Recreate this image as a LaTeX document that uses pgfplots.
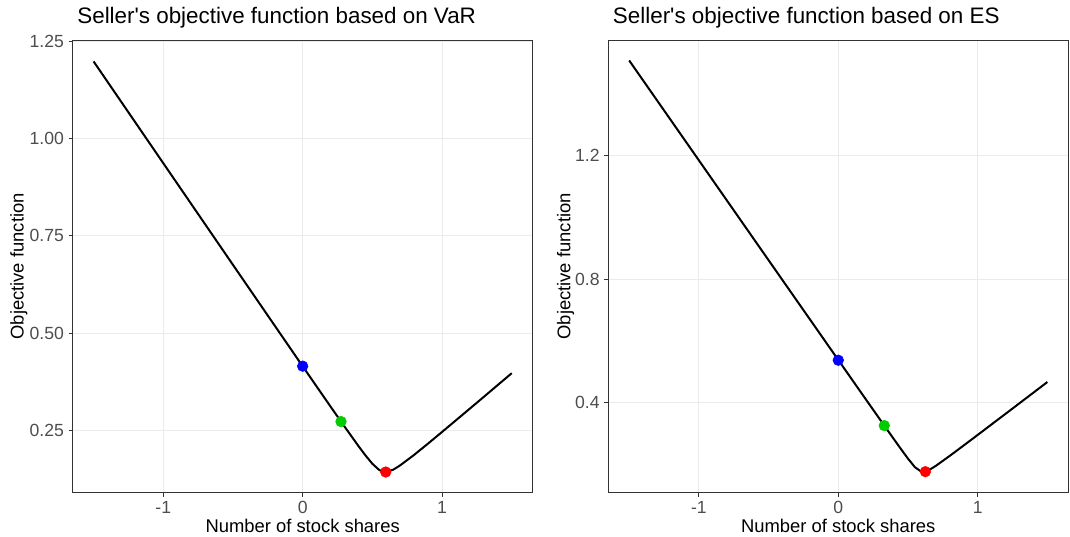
\documentclass[border=0pt]{standalone}
\usepackage{fontspec}
\setmainfont{Liberation Sans}
\usepackage{pgfplots}
\pgfplotsset{compat=1.18}

\definecolor{frame}{HTML}{333333}
\definecolor{ticktxt}{HTML}{4D4D4D}
\definecolor{gridc}{HTML}{EBEBEB}
\definecolor{ptgreen}{HTML}{00CD00}

\pgfplotsset{
  panel/.style={
    anchor=south west,
    scale only axis,
    width=345pt, height=339.5pt,
    xmin=-1.65, xmax=1.65,
    xtick={-1,0,1},
    tick pos=left,
    tick align=outside,
    major tick length=3pt,
    every tick/.style={frame, line width=0.6pt},
    axis line style={frame, line width=0.7pt},
    grid=major,
    major grid style={gridc, line width=0.7pt},
    ticklabel style={font=\fontsize{13.2}{15}\selectfont, text=ticktxt},
    /pgf/number format/assume math mode=true,
    label style={font=\fontsize{13.8}{16}\selectfont},
    xlabel style={at={(axis description cs:0.5,0)}, anchor=base, yshift=-29.5pt},
    title style={at={(axis description cs:0,1)}, anchor=base west, yshift=6pt, font=\fontsize{16.8}{20}\selectfont},
    xlabel={Number of stock shares},
    ylabel={Objective function},
  },
  curve/.style={black, line width=1.5pt, no marks},
  dot/.style={only marks, mark=*, mark size=4pt},
}

\begin{document}
\begin{tikzpicture}
\useasboundingbox (0,0) rectangle (802.5pt,402pt);

% VaR panel
\begin{axis}[panel,
    at={(54.5pt,32.5pt)},
    ymin=0.090, ymax=1.253,
    ytick={0.25,0.5,0.75,1,1.25},
    yticklabel style={/pgf/number format/.cd, fixed, fixed zerofill, precision=2},
    ylabel style={at={(axis description cs:-0.117,0.5)}, anchor=center},
    title={Seller\textquotesingle s objective function based on VaR}]
  \addplot[curve] coordinates {
    (-1.5,1.198) (-1.0,0.9365) (-0.5,0.6753) (0,0.4147) (0.2,0.3112)
    (0.3,0.2600) (0.4,0.2099) (0.45,0.186) (0.5,0.1643) (0.55,0.1480)
    (0.594,0.1429) (0.65,0.1491) (0.7,0.1603) (0.8,0.1872) (0.9,0.2163)
    (1.0,0.2460) (1.25,0.3212) (1.5,0.397)};
  \addplot[dot, blue] coordinates {(0,0.415)};
  \addplot[dot, ptgreen] coordinates {(0.275,0.2727)};
  \addplot[dot, red] coordinates {(0.596,0.143)};
\end{axis}

% ES panel
\begin{axis}[panel,
    at={(456.2pt,32.5pt)},
    ymin=0.109, ymax=1.575,
    ytick={0.4,0.8,1.2},
    yticklabel style={/pgf/number format/.cd, fixed, fixed zerofill, precision=1},
    ylabel style={at={(axis description cs:-0.093,0.5)}, anchor=center},
    title={Seller\textquotesingle s objective function based on ES}]
  \addplot[curve] coordinates {
    (-1.5,1.5087) (-1.0,1.1853) (-0.5,0.8619) (0,0.5388) (0.2,0.4098)
    (0.33,0.3263) (0.4,0.2817) (0.45,0.2501) (0.5,0.2194) (0.55,0.1914)
    (0.6,0.1757) (0.65,0.1819) (0.7,0.1959) (0.8,0.2283) (0.9,0.2620)
    (1.0,0.2960) (1.25,0.3815) (1.5,0.4673)};
  \addplot[dot, blue] coordinates {(0,0.538)};
  \addplot[dot, ptgreen] coordinates {(0.33,0.3263)};
  \addplot[dot, red] coordinates {(0.625,0.177)};
\end{axis}
\end{tikzpicture}
\end{document}
